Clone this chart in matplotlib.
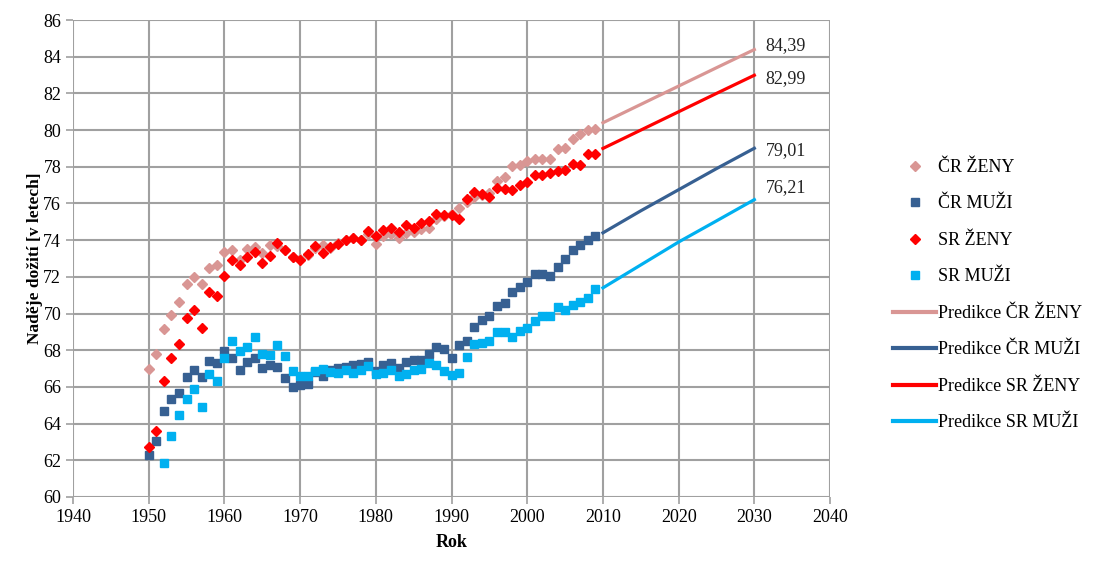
import numpy as np
import matplotlib.pyplot as plt
from matplotlib.lines import Line2D

plt.rcParams['font.family'] = ['Liberation Serif', 'DejaVu Serif']

years = list(range(1950, 2010))

cr_zeny = [66.96, 67.78, 69.17, 69.94, 70.61, 71.59, 71.99, 71.59, 72.46, 72.63,
           73.33, 73.48, 72.90, 73.50, 73.65, 73.30, 73.75, 73.70, 73.45, 73.10,
           72.95, 73.20, 73.60, 73.75, 73.60, 73.85, 74.00, 74.10, 74.00, 74.35,
           73.80, 74.20, 74.35, 74.10, 74.40, 74.45, 74.60, 74.65, 75.15, 75.30,
           75.45, 75.74, 76.07, 76.37, 76.46, 76.55, 77.24, 77.42, 78.05, 78.09,
           78.32, 78.41, 78.45, 78.45, 78.99, 79.04, 79.53, 79.80, 80.00, 80.05]

cr_muzi = [62.27, 63.03, 64.68, 65.36, 65.66, 66.53, 66.93, 66.53, 67.39, 67.28,
           67.98, 67.59, 66.90, 67.36, 67.55, 67.05, 67.22, 67.06, 66.50, 66.02,
           66.08, 66.17, 66.80, 66.60, 66.90, 67.02, 67.10, 67.20, 67.27, 67.35,
           66.85, 67.22, 67.33, 67.05, 67.35, 67.46, 67.46, 67.80, 68.18, 68.07,
           67.60, 68.30, 68.50, 69.25, 69.66, 69.84, 70.43, 70.56, 71.19, 71.46,
           71.70, 72.13, 72.13, 72.06, 72.55, 72.96, 73.45, 73.72, 73.99, 74.22]

sr_zeny = [62.72, 63.60, 66.32, 67.57, 68.35, 69.75, 70.20, 69.22, 71.16, 70.94,
           72.07, 72.90, 72.63, 73.10, 73.38, 72.78, 73.15, 73.84, 73.44, 73.10,
           72.90, 73.25, 73.67, 73.30, 73.62, 73.80, 74.00, 74.12, 74.00, 74.50,
           74.22, 74.58, 74.65, 74.42, 74.80, 74.65, 74.92, 75.05, 75.40, 75.38,
           75.35, 75.17, 76.25, 76.60, 76.52, 76.37, 76.82, 76.79, 76.75, 77.02,
           77.18, 77.55, 77.55, 77.65, 77.78, 77.83, 78.14, 78.10, 78.68, 78.68]

# SR men series starts in 1952
sr_muzi = [np.nan, np.nan,
           61.86, 63.31, 64.45, 65.36, 65.86, 64.90, 66.70, 66.32,
           67.60, 68.50, 67.98, 68.20, 68.72, 67.80, 67.76, 68.27, 67.68, 66.87,
           66.62, 66.60, 66.85, 67.00, 66.82, 66.76, 66.92, 66.74, 66.90, 67.13,
           66.72, 66.78, 66.92, 66.62, 66.72, 66.90, 66.99, 67.28, 67.18, 66.88,
           66.66, 66.78, 67.62, 68.36, 68.39, 68.48, 68.97, 68.97, 68.70, 69.03,
           69.21, 69.60, 69.84, 69.84, 70.33, 70.20, 70.47, 70.65, 70.87, 71.34]

pred_years = [2010, 2015, 2020, 2025, 2030]
pred_cr_zeny = [80.40, 81.40, 82.40, 83.40, 84.39]
pred_cr_muzi = [74.40, 75.60, 76.75, 77.90, 79.01]
pred_sr_zeny = [79.00, 80.00, 81.00, 82.00, 82.99]
pred_sr_muzi = [71.40, 72.65, 73.90, 75.05, 76.21]

c_pink = '#D99694'
c_dblue = '#376092'
c_red = '#FF0000'
c_lblue = '#00B0F0'

fig = plt.figure(figsize=(11.01, 5.61), dpi=100)
ax = fig.add_axes([0.0663, 0.1141, 0.6876, 0.8502])

ax.plot(years, cr_zeny, linestyle='none', marker='D', ms=5.3, color=c_pink, mec=c_pink)
ax.plot(years, cr_muzi, linestyle='none', marker='s', ms=5.3, color=c_dblue, mec=c_dblue)
ax.plot(years, sr_zeny, linestyle='none', marker='D', ms=5.3, color=c_red, mec=c_red)
ax.plot(years, sr_muzi, linestyle='none', marker='s', ms=5.3, color=c_lblue, mec=c_lblue)

ax.plot(pred_years, pred_cr_zeny, color=c_pink, lw=2.3)
ax.plot(pred_years, pred_cr_muzi, color=c_dblue, lw=2.3)
ax.plot(pred_years, pred_sr_zeny, color=c_red, lw=2.3)
ax.plot(pred_years, pred_sr_muzi, color=c_lblue, lw=2.3)

# end values of the predictions
offsets = [0.2, -0.2, -0.15, 0.65]
for vals, dy in zip([pred_cr_zeny, pred_sr_zeny, pred_cr_muzi, pred_sr_muzi], offsets):
    ax.text(2031.5, vals[-1] + dy, f'{vals[-1]:.2f}'.replace('.', ','),
            fontsize=13, va='center', ha='left', color='#222222')

ax.set_xlim(1940, 2040)
ax.set_ylim(60, 86)
ax.set_xticks(range(1940, 2041, 10))
ax.set_yticks(range(60, 87, 2))
ax.grid(True, color='#A0A0A0', lw=1.5)
ax.set_axisbelow(True)
for s in ax.spines.values():
    s.set_visible(False)
ax.tick_params(axis='both', colors='#A0A0A0', length=5, width=1.2,
               labelcolor='black', labelsize=13)

ax.set_xlabel('Rok', fontsize=13, fontweight='bold', labelpad=6)
ax.set_ylabel('Naděje dožití [v letech]', fontsize=12.5, fontweight='bold', labelpad=0)

handles = [
    Line2D([], [], linestyle='none', marker='D', ms=5.3, color=c_pink),
    Line2D([], [], linestyle='none', marker='s', ms=5.3, color=c_dblue),
    Line2D([], [], linestyle='none', marker='D', ms=5.3, color=c_red),
    Line2D([], [], linestyle='none', marker='s', ms=5.3, color=c_lblue),
    Line2D([], [], color=c_pink, lw=3),
    Line2D([], [], color=c_dblue, lw=3),
    Line2D([], [], color=c_red, lw=3),
    Line2D([], [], color=c_lblue, lw=3),
]
labels = ['ČR ŽENY', 'ČR MUŽI', 'SR ŽENY', 'SR MUŽI',
          'Predikce ČR ŽENY', 'Predikce ČR MUŽI', 'Predikce SR ŽENY', 'Predikce SR MUŽI']
fig.legend(handles, labels, loc='center left', bbox_to_anchor=(0.803, 0.474),
           frameon=False, fontsize=13, handlelength=2.4, handletextpad=0.1,
           labelspacing=1.08, borderpad=0)

fig.savefig('out.png', dpi=100)
